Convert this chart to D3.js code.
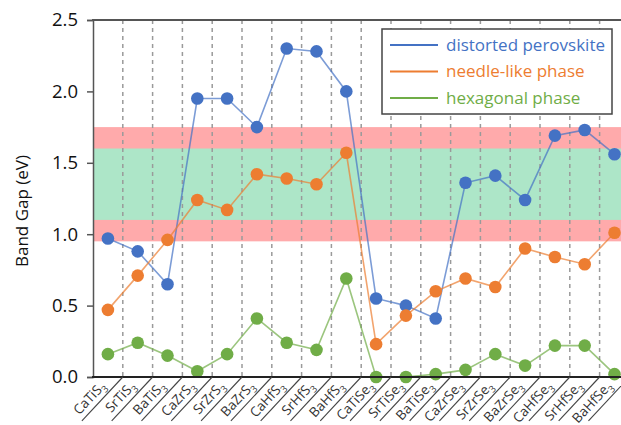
<!DOCTYPE html>
<html><head><meta charset="utf-8">
<script src="https://cdn.jsdelivr.net/npm/d3@7"></script>
<style>
html,body{margin:0;padding:0;background:#fff;}
svg{display:block;font-family:"Open Sans",sans-serif;}
</style></head>
<body><svg id="c" width="621" height="425"></svg>
<script>
const categories = [
  ["CaTi","S"],["SrTi","S"],["BaTi","S"],["CaZr","S"],["SrZr","S"],["BaZr","S"],
  ["CaHf","S"],["SrHf","S"],["BaHf","S"],["CaTi","Se"],["SrTi","Se"],["BaTi","Se"],
  ["CaZr","Se"],["SrZr","Se"],["BaZr","Se"],["CaHf","Se"],["SrHf","Se"],["BaHf","Se"]
];
const distorted = [0.97,0.88,0.65,1.95,1.95,1.75,2.30,2.28,2.00,0.55,0.50,0.41,1.36,1.41,1.24,1.69,1.73,1.56];
const needle    = [0.47,0.71,0.96,1.24,1.17,1.42,1.39,1.35,1.57,0.23,0.43,0.60,0.69,0.63,0.90,0.84,0.79,1.01];
const hexagonal = [0.16,0.24,0.15,0.04,0.16,0.41,0.24,0.19,0.69,0.00,0.00,0.02,0.05,0.16,0.08,0.22,0.22,0.02];
const seriesNames = ["distorted perovskite","needle-like phase","hexagonal phase"];
const seriesColors = ["#4472C4","#ED7D31","#70AD47"];
const yTicks = [0,0.5,1.0,1.5,2.0,2.5];
const pinkBand = [0.95,1.75];
const greenBand = [1.1,1.6];

const svg = d3.select("#c");
const mLeft = 93, mTop = 20, mBottom = 377, step = 29.8;
const x = d3.scaleBand().domain(d3.range(categories.length)).range([mLeft, mLeft + step*categories.length]).padding(0);
const y = d3.scaleLinear().domain([0,2.5]).range([mBottom, mTop]);
const cx = i => x(i) + x.bandwidth()/2;
const W = 621;
const ang = 47, rad = ang*Math.PI/180;

// bands
svg.append("rect").attr("x",mLeft).attr("width",W-mLeft).attr("y",y(pinkBand[1])).attr("height",y(pinkBand[0])-y(pinkBand[1])).attr("fill","#ffaaab");
svg.append("rect").attr("x",mLeft).attr("width",W-mLeft).attr("y",y(greenBand[1])).attr("height",y(greenBand[0])-y(greenBand[1])).attr("fill","#ade6c8");

// gridlines
for (let i=1;i<categories.length;i++){
  svg.append("line").attr("x1",x(i)).attr("x2",x(i)).attr("y1",mTop).attr("y2",mBottom)
    .attr("stroke","#9a9a9a").attr("stroke-width",1.5).attr("stroke-dasharray","4,4");
}

const all = [distorted, needle, hexagonal];
const line = d3.line().x((d,i)=>cx(i)).y(d=>y(d));
all.forEach((vals,k)=>{
  svg.append("path").datum(vals).attr("d",line).attr("fill","none")
    .attr("stroke",seriesColors[k]).attr("stroke-width",1.6).attr("stroke-opacity",0.7);
});
all.forEach((vals,k)=>{
  svg.append("g").selectAll("circle").data(vals).join("circle")
    .attr("cx",(d,i)=>cx(i)).attr("cy",d=>y(d)).attr("r",6.3).attr("fill",seriesColors[k]);
});

// axes
const yAxis = d3.axisLeft(y).tickValues(yTicks).tickFormat(d3.format(".1f")).tickSizeOuter(0).tickSize(6).tickPadding(9);
const gy = svg.append("g").attr("transform",`translate(${mLeft},0)`).call(yAxis);
gy.select(".domain").attr("stroke","#555").attr("stroke-width",1.5);
gy.selectAll(".tick line").attr("stroke","#555").attr("stroke-width",1.5);
gy.selectAll(".tick text").attr("font-size",18.5).attr("fill","#111").attr("font-family","Open Sans");

svg.append("line").attr("x1",mLeft-1).attr("x2",W).attr("y1",mTop).attr("y2",mTop).attr("stroke","#555").attr("stroke-width",2);
svg.append("line").attr("x1",mLeft-1).attr("x2",W).attr("y1",mBottom).attr("y2",mBottom).attr("stroke","#222").attr("stroke-width",2);

// diagonal separators + labels
for (let i=1;i<=categories.length;i++){
  const bx = mLeft + step*i;
  svg.append("line").attr("x1",bx).attr("y1",mBottom).attr("x2",bx-60*Math.cos(rad)).attr("y2",mBottom+60*Math.sin(rad))
    .attr("stroke","#444").attr("stroke-width",1.1);
}
categories.forEach((c,i)=>{
  const t = svg.append("text").attr("text-anchor","end")
    .attr("transform",`translate(${cx(i)-1.5},${mBottom+9.5}) rotate(${-ang})`)
    .attr("font-size",13.5).attr("fill","#333");
  t.append("tspan").text(c[0]+c[1]);
  t.append("tspan").attr("font-size",9.5).attr("dy",4).text("3");
});

// y label
svg.append("text").attr("transform","translate(28,211) rotate(-90)").attr("text-anchor","middle")
  .attr("font-size",17).attr("fill","#111").text("Band Gap (eV)");

// legend
const lg = svg.append("g");
lg.append("rect").attr("x",382).attr("y",29).attr("width",230).attr("height",85)
  .attr("fill","#fff").attr("stroke","#444").attr("stroke-width",1.5);
seriesNames.forEach((n,k)=>{
  const yy = 45 + k*26.5;
  lg.append("line").attr("x1",390).attr("x2",438).attr("y1",yy).attr("y2",yy).attr("stroke",seriesColors[k]).attr("stroke-width",1.8);
  lg.append("text").attr("x",446).attr("y",yy).attr("dy","0.35em").attr("font-size",17).attr("fill",seriesColors[k]).text(n);
});
</script></body></html>
